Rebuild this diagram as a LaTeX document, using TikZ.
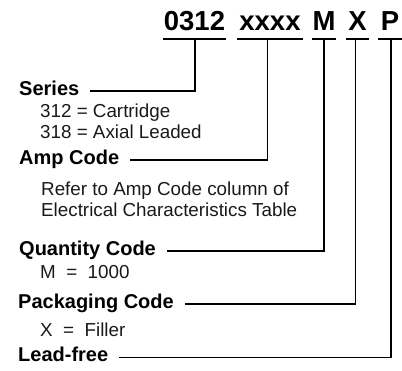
\documentclass[tikz,border=0pt]{standalone}
\usepackage{fontspec}
\setmainfont{Liberation Sans}
\begin{document}
\begin{tikzpicture}[x=1pt,y=-1pt,
  hdr/.style={font=\fontsize{27.5}{30}\selectfont\bfseries, inner sep=0pt, anchor=base},
  lbl/.style={font=\fontsize{20}{22}\selectfont\bfseries, inner sep=0pt, text height=9pt, text depth=0pt, anchor=base west},
  desc/.style={font=\fontsize{18.8}{21}\selectfont, text=black!90, inner sep=0pt, anchor=base west},
  conn/.style={line width=1.2pt},
  ul/.style={line width=2pt}]
\useasboundingbox (0,0) rectangle (402,370);
% header
\node[hdr] (h1) at (194.5,30) {0312};
\node[hdr] (h2) at (270,30) {xxxx};
\node[hdr] (h3) at (324,30) {M};
\node[hdr] (h4) at (357.5,30) {X};
\node[hdr] (h5) at (390,30) {P};
\draw[ul] (163,38.5) -- (226,38.5);
\draw[ul] (237,38.5) -- (303,38.5);
\draw[ul] (312,38.5) -- (336,38.5);
\draw[ul] (346,38.5) -- (369,38.5);
\draw[ul] (378,38.5) -- (402,38.5);
\coordinate (c1) at (195,38.5);
\coordinate (c2) at (267.5,38.5);
\coordinate (c3) at (324,38.5);
\coordinate (c4) at (355.5,38.5);
\coordinate (c5) at (391,38.5);
% labels
\node[lbl] (ser) at (19,95.5) {Series};
\node[desc] (ser1) at (40,117) {312 = Cartridge};
\node[desc] (ser2) at (40,138) {318 = Axial Leaded};
\node[lbl] (amp) at (19,164.5) {Amp Code};
\node[desc] (amp1) at (41,195) {Refer to Amp Code column of};
\node[desc] (amp2) at (41,216) {Electrical Characteristics Table};
\node[lbl] (qty) at (19,255.5) {Quantity Code};
\node[desc] (qty1) at (40,278) {M\ \ =\ \ 1000};
\node[lbl] (pkg) at (18,308.5) {Packaging Code};
\node[desc] (pkg1) at (40,336) {X\ \ =\ \ Filler};
\node[lbl] (lf) at (18,361.8) {Lead-free};
% connectors
\draw[conn] ([xshift=11pt]ser.east) -| (c1);
\draw[conn] ([xshift=11pt]amp.east) -| (c2);
\draw[conn] ([xshift=11pt]qty.east) -| (c3);
\draw[conn] ([xshift=11pt]pkg.east) -| (c4);
\draw[conn] ([xshift=11pt]lf.east) -| (c5);
\end{tikzpicture}
\end{document}
